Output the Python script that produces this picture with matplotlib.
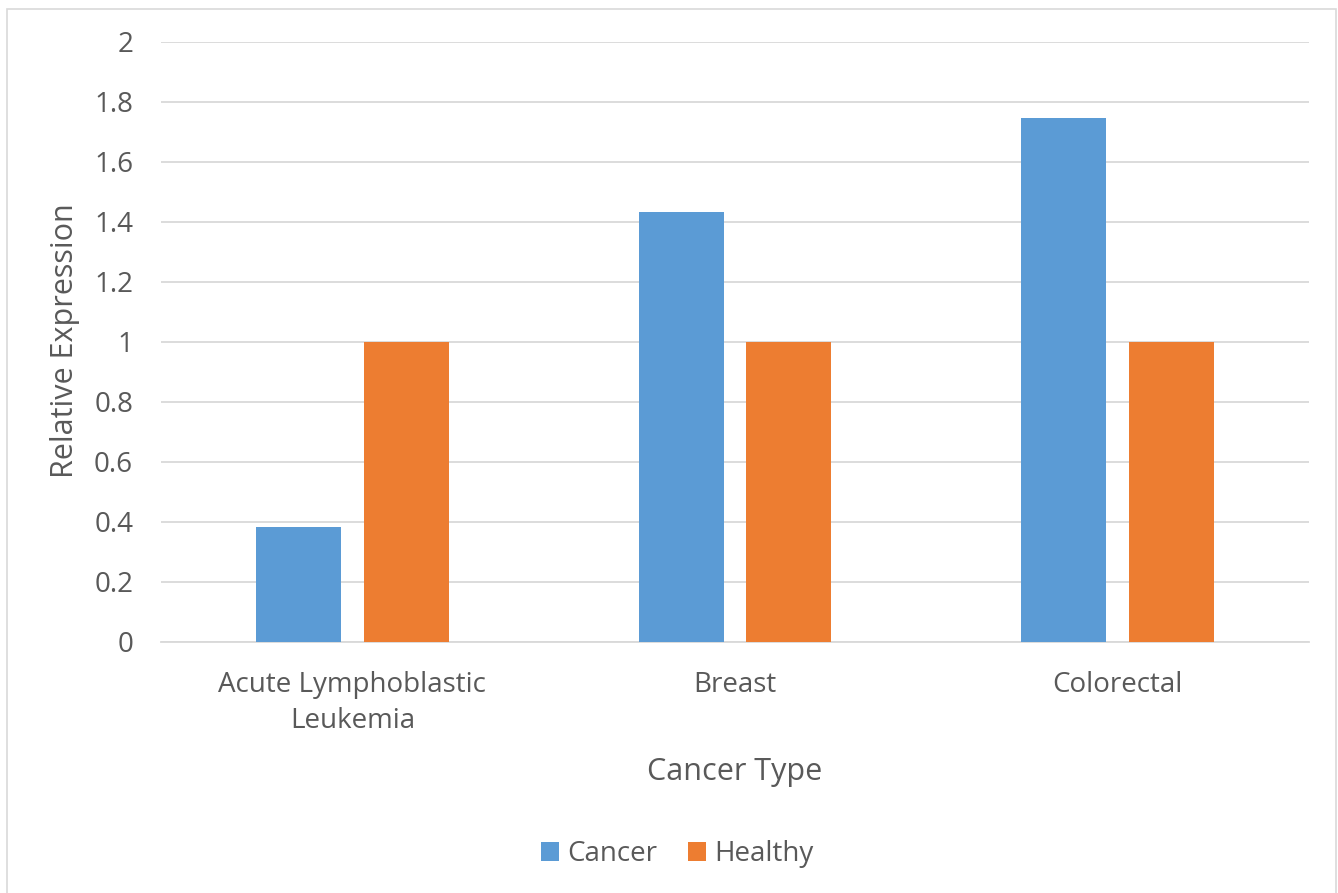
import matplotlib
matplotlib.use("Agg")
import matplotlib.pyplot as plt
import numpy as np
from matplotlib.patches import Rectangle

categories = ["Acute Lymphoblastic\nLeukemia", "Breast", "Colorectal"]
cancer = [0.383, 1.433, 1.747]
healthy = [1.0, 1.0, 1.0]
series_names = ["Cancer", "Healthy"]
yticks = [0, 0.2, 0.4, 0.6, 0.8, 1, 1.2, 1.4, 1.6, 1.8, 2]
ytick_labels = ["0", "0.2", "0.4", "0.6", "0.8", "1", "1.2", "1.4", "1.6", "1.8", "2"]

BLUE = "#5B9BD5"
ORANGE = "#ED7D31"
TXT = "#595959"
GRID = "#D9D9D9"
FONT = "Open Sans"

plt.rcParams['font.family'] = [FONT, 'DejaVu Sans']

W, H = 1338, 893
fig = plt.figure(figsize=(W / 100, H / 100), dpi=100)
fig.patch.set_facecolor("white")

# chart area border
fig.patches.append(Rectangle((7 / W, -0.01), (1336 - 7) / W, 1 - 9 / H + 0.01,
                             transform=fig.transFigure, fill=False,
                             edgecolor=GRID, linewidth=1.2))

left, right, top, bottom = 161, 1309, 42, 642
ax = fig.add_axes([left / W, 1 - bottom / H, (right - left) / W, (bottom - top) / H])

x = np.arange(len(categories))
bw = 0.222
off = 0.141
ax.bar(x - off, cancer, width=bw, color=BLUE, label=series_names[0], zorder=3)
ax.bar(x + off, healthy, width=bw, color=ORANGE, label=series_names[1], zorder=3)

ax.set_xlim(-0.5, len(categories) - 0.5)
ax.set_ylim(0, 2)
ax.set_yticks(yticks)
ax.set_yticklabels(ytick_labels)
ax.set_xticks(x)
ax.set_xticklabels(categories, linespacing=1.38)

ax.yaxis.grid(True, color=GRID, linewidth=1.3, zorder=0)
ax.set_axisbelow(True)
for s in ["top", "right", "left"]:
    ax.spines[s].set_visible(False)
ax.spines["bottom"].set_color(GRID)
ax.spines["bottom"].set_linewidth(1.3)

ax.tick_params(axis="both", length=0, labelsize=20, labelcolor=TXT)
ax.tick_params(axis="y", pad=20)
ax.tick_params(axis="x", pad=21)

ax.set_ylabel("Relative Expression", fontsize=22, color=TXT, va="center")
ax.yaxis.set_label_coords((65 - left) / (right - left), 0.503)
ax.set_xlabel("Cancer Type", fontsize=22, color=TXT, va="baseline")
ax.xaxis.set_label_coords(0.5, (bottom - 780) / (bottom - top))

leg = fig.legend(loc="center", bbox_to_anchor=(677 / W, 1 - 854 / H), ncol=2,
                 frameon=False, fontsize=20, labelcolor=TXT,
                 handlelength=0.65, handleheight=0.65, handletextpad=0.3,
                 columnspacing=1.1)

fig.savefig("out.png", dpi=100, facecolor="white")
